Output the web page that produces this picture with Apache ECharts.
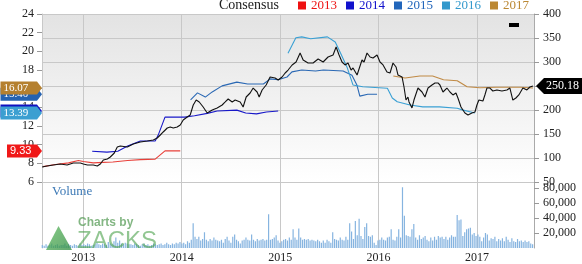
<!DOCTYPE html>
<html><head><meta charset="utf-8">
<script src="https://cdn.jsdelivr.net/npm/echarts@6/dist/echarts.min.js"></script>
<style>html,body{margin:0;padding:0;background:#fff}#c{width:582px;height:264px}</style>
</head><body><div id="c"></div>
<script>
// ---- data ----
const yearTicks = [2013, 2014, 2015, 2016, 2017];
const legendYears = ['2013', '2014', '2015', '2016', '2017'];
const xMin = 2012.58, xMax = 2017.58;

const price = [[2012.581,81.3],[2012.631,83.3],[2012.695,85.4],[2012.766,87.5],[2012.835,85.4],[2012.898,89.6],[2012.970,89.6],[2013.000,87.5],[2013.041,85.4],[2013.102,85.4],[2013.142,83.3],[2013.173,87.5],[2013.203,95.8],[2013.244,97.9],[2013.274,102.1],[2013.315,110.4],[2013.345,122.9],[2013.376,125.0],[2013.447,122.9],[2013.508,129.2],[2013.579,133.3],[2013.650,135.4],[2013.711,137.5],[2013.751,141.7],[2013.782,147.9],[2013.812,154.2],[2013.853,162.5],[2013.883,164.6],[2013.914,162.5],[2013.954,164.6],[2013.985,168.8],[2014.015,179.2],[2014.056,185.4],[2014.086,189.6],[2014.117,210.4],[2014.147,220.8],[2014.178,216.7],[2014.218,206.3],[2014.259,193.8],[2014.310,200.0],[2014.360,204.2],[2014.411,210.4],[2014.442,216.7],[2014.472,222.9],[2014.513,216.7],[2014.543,220.8],[2014.594,216.7],[2014.624,206.3],[2014.655,227.1],[2014.695,235.4],[2014.726,245.8],[2014.766,237.5],[2014.787,227.1],[2014.817,241.7],[2014.858,252.1],[2014.898,268.8],[2014.949,266.7],[2014.980,262.5],[2015.020,268.8],[2015.051,277.1],[2015.081,283.3],[2015.122,293.8],[2015.162,300.0],[2015.203,318.8],[2015.234,304.2],[2015.284,297.9],[2015.335,297.9],[2015.386,306.3],[2015.437,300.0],[2015.487,310.4],[2015.538,314.6],[2015.569,331.3],[2015.599,314.6],[2015.629,300.0],[2015.660,293.8],[2015.690,297.9],[2015.721,283.3],[2015.741,287.5],[2015.782,272.9],[2015.802,270.8],[2015.832,304.2],[2015.853,300.0],[2015.883,318.8],[2015.914,310.4],[2015.944,308.3],[2015.985,314.6],[2016.015,300.0],[2016.046,293.8],[2016.086,279.2],[2016.117,277.1],[2016.147,297.9],[2016.178,289.6],[2016.198,272.9],[2016.239,268.8],[2016.259,247.9],[2016.279,220.8],[2016.299,227.1],[2016.310,216.7],[2016.340,204.2],[2016.360,220.8],[2016.401,245.8],[2016.442,237.5],[2016.472,227.1],[2016.503,245.8],[2016.543,252.1],[2016.574,256.3],[2016.604,256.3],[2016.624,252.1],[2016.655,237.5],[2016.695,245.8],[2016.726,237.5],[2016.756,231.3],[2016.787,235.4],[2016.807,225.0],[2016.838,206.3],[2016.858,204.2],[2016.878,193.8],[2016.909,189.6],[2016.949,193.8],[2016.980,195.8],[2017.000,210.4],[2017.020,220.8],[2017.061,218.8],[2017.081,231.3],[2017.102,245.8],[2017.132,245.8],[2017.162,239.6],[2017.203,241.7],[2017.254,239.6],[2017.305,241.7],[2017.335,245.8],[2017.365,220.8],[2017.396,225.0],[2017.426,231.3],[2017.467,245.8],[2017.508,241.7],[2017.538,247.9],[2017.569,250.18]];

const eps2013 = [[2012.59,7.65],[2012.70,7.85],[2012.85,8.05],[2012.95,8.3],[2013.0,8.2],[2013.10,8.05],[2013.20,8.1],[2013.30,8.15],[2013.45,8.3],[2013.58,8.4],[2013.73,8.45],[2013.83,9.33],[2013.985,9.33]];
const eps2014 = [[2013.09,9.3],[2013.24,9.2],[2013.35,9.3],[2013.45,9.85],[2013.58,10.4],[2013.73,10.4],[2013.76,11.0],[2013.83,12.95],[2014.03,12.95],[2014.13,13.1],[2014.26,13.35],[2014.36,13.6],[2014.56,13.7],[2014.65,13.4],[2014.76,13.3],[2014.86,13.5],[2014.98,13.6]];
const eps2015 = [[2014.09,14.8],[2014.16,15.55],[2014.24,15.1],[2014.31,15.65],[2014.41,16.3],[2014.56,16.7],[2014.67,16.5],[2014.83,16.5],[2014.90,17.05],[2014.98,16.95],[2015.07,17.25],[2015.12,17.8],[2015.22,18.0],[2015.36,17.9],[2015.44,18.0],[2015.64,17.9],[2015.73,17.45],[2015.78,16.4],[2015.81,15.2],[2015.89,15.4],[2015.985,15.40]];
const eps2016 = [[2015.08,19.8],[2015.16,21.45],[2015.22,21.55],[2015.31,21.35],[2015.48,21.55],[2015.56,21.0],[2015.61,19.9],[2015.68,18.3],[2015.74,16.4],[2015.84,16.2],[2016.09,16.05],[2016.14,15.0],[2016.19,14.6],[2016.32,14.25],[2016.45,14.05],[2016.62,14.05],[2016.80,13.9],[2016.86,13.7],[2016.98,13.39]];
const eps2017 = [[2016.15,17.35],[2016.27,17.15],[2016.42,17.35],[2016.55,17.35],[2016.66,16.95],[2016.80,16.85],[2016.90,16.2],[2017.03,16.1],[2017.20,16.15],[2017.44,16.15],[2017.57,16.07]];

// weekly volume, thousands of shares; first week starts 2012-08-01
const volStart = 2012.583;
const volumes = [4,3,5,3,4,6,3,4,5,3,4,4,6,3,5,4,3,5,4,3,6,4,
5,4,6,5,3,4,5,7,5,4,6,5,4,8,6,5,9,14,7,10,6,5,7,6,5,
5,4,6,5,4,3,5,6,4,5,3,4,6,5,4,5,6,4,5,7,5,4,6,5,7,6,8,
6,7,5,9,7,11,33,15,12,15,10,12,21,11,9,12,10,14,11,10,9,11,7,12,15,10,7,15,18,11,9,6,10,11,14,11,10,18,11,9,12,10,11,12,10,11,45,11,12,14,17,10,7,
9,11,12,10,14,11,25,14,11,26,14,11,12,11,12,10,11,10,9,11,9,7,10,7,11,9,7,21,12,11,10,14,11,10,15,11,33,22,12,36,17,39,16,12,28,33,16,15,17,7,4,10,
11,14,11,10,14,15,25,11,10,15,25,14,81,43,17,16,15,25,32,14,11,17,12,14,16,11,9,14,10,15,11,16,14,15,12,15,11,14,17,15,15,44,37,38,16,21,25,26,27,18,20,16,
18,15,9,14,20,18,10,13,12,15,9,12,10,13,9,15,11,8,13,9,8,12,9,10,8,10,8,9,6,5];

// ---- styles ----
const serif = '"Liberation Serif","Times New Roman",serif';
const sans = '"Liberation Sans",Arial,sans-serif';
const gridColor = '#c8c8c8';
const epsColors = ['#e8403a', '#1818c8', '#2a68b4', '#3aa0d4', '#c08a45'];
const legendColors = ['#ee1111', '#1111cc', '#2266bb', '#3399cc', '#bb8833'];
const tagColors = ['#f01818', '#1010c0', '#2562b0', '#3b9fd1', '#b5802f'];
const epsData = [eps2013, eps2014, eps2015, eps2016, eps2017];

const volData = volumes.map((v, i) => [volStart + i * 7 / 365.25, v]);

const lbl = {fontFamily: serif, fontSize: 12, color: '#222'};

const option = {
  animation: false,
  backgroundColor: '#fff',
  grid: [
    {left: 42, right: 48, top: 14, height: 168, show: true, borderWidth: 0,
     backgroundColor: {type: 'linear', x: 0, y: 0, x2: 0, y2: 1,
       colorStops: [{offset: 0, color: '#e3e3e3'}, {offset: 1, color: '#ffffff'}]}},
    {left: 42, right: 48, top: 182, height: 72}
  ],
  xAxis: [
    {gridIndex: 0, type: 'value', min: xMin, max: xMax,
     axisLine: {show: false}, axisTick: {show: false, customValues: yearTicks},
     axisLabel: {show: false, customValues: yearTicks},
     splitLine: {show: true, lineStyle: {color: gridColor}}},
    {gridIndex: 1, type: 'value', min: xMin, max: xMax,
     axisLine: {show: false}, axisTick: {show: false, customValues: yearTicks},
     axisLabel: Object.assign({show: true, customValues: yearTicks, margin: 4, formatter: v => String(Math.round(v))}, lbl),
     splitLine: {show: true, lineStyle: {color: gridColor}}}
  ],
  yAxis: [
    {gridIndex: 0, position: 'left', min: 6, max: 24, interval: 2,
     axisLine: {show: true, lineStyle: {color: gridColor}},
     axisTick: {show: true, length: 5, lineStyle: {color: '#999'}},
     axisLabel: Object.assign({margin: 8}, lbl), splitLine: {show: false}},
    {gridIndex: 0, position: 'right', min: 50, max: 400, interval: 50,
     axisLine: {show: true, lineStyle: {color: '#aaa'}},
     axisTick: {show: true, length: 5, lineStyle: {color: '#999'}},
     axisLabel: Object.assign({margin: 9}, lbl),
     splitLine: {show: true, lineStyle: {color: gridColor}}},
    {gridIndex: 1, position: 'right', min: 0, max: 88, interval: 20,
     axisLine: {show: true, lineStyle: {color: '#aaa'}},
     axisTick: {show: true, length: 5, lineStyle: {color: '#999'}},
     axisLabel: Object.assign({margin: 9, showMinLabel: false, showMaxLabel: false,
       formatter: v => (v * 1000).toLocaleString('en-US')}, lbl),
     splitLine: {show: false}},
    {gridIndex: 1, position: 'left', min: 0, max: 1,
     axisLine: {show: true, lineStyle: {color: gridColor}},
     axisTick: {show: false}, axisLabel: {show: false}, splitLine: {show: false}}
  ],
  legend: {
    left: 298, top: -1, padding: 0, itemWidth: 8, itemHeight: 8, itemGap: 9, icon: 'rect',
    selectedMode: false,
    textStyle: {fontFamily: serif, fontSize: 13},
    data: legendYears.map((n, i) => ({name: n, itemStyle: {color: legendColors[i]},
      textStyle: {color: legendColors[i]}}))
  },
  series: [
    {name: 'Volume', type: 'bar', xAxisIndex: 1, yAxisIndex: 2, data: volData,
     barWidth: 1.2, itemStyle: {color: '#86b4e0'}, silent: true},
    ...epsData.map((d, i) => ({
      name: legendYears[i], type: 'line', xAxisIndex: 0, yAxisIndex: 0, data: d,
      showSymbol: false, symbol: 'none', lineStyle: {color: epsColors[i], width: 1.1},
      itemStyle: {color: epsColors[i]}, z: 3, silent: true})),
    {name: 'Price', type: 'line', xAxisIndex: 0, yAxisIndex: 1, data: price,
     showSymbol: false, symbol: 'none', lineStyle: {color: '#111', width: 1.1}, z: 5, silent: true}
  ]
};

const chart = echarts.init(document.getElementById('c'), null, {renderer: 'canvas'});
chart.setOption(option);

// ---- tags & decorations positioned through the axes ----
const g = [];
let z = 100;
epsData.forEach((d, i) => {
  const v = d[d.length - 1][1];
  const py = chart.convertToPixel({yAxisIndex: 0}, v);
  const txt = v.toFixed(2);
  const left = 37 - (txt.length * 6.5 + 4);
  g.push({type: 'polygon', z: z++, silent: true,
    shape: {points: [[left, py - 6.5], [37, py - 6.5], [42, py], [37, py + 6.5], [left, py + 6.5]]},
    style: {fill: tagColors[i]}});
  g.push({type: 'text', z: z++, silent: true, x: left + 3, y: py,
    style: {text: txt, fill: '#fff', font: '11px ' + (i === 0 ? sans : serif),
      align: 'left', verticalAlign: 'middle', textAlign: 'left', textVerticalAlign: 'middle'}});
});
const lastP = price[price.length - 1][1];
const pp = chart.convertToPixel({yAxisIndex: 1}, lastP);
g.push({type: 'polygon', z: z++, silent: true,
  shape: {points: [[536, pp], [544, pp - 8], [582, pp - 8], [582, pp + 8], [544, pp + 8]]},
  style: {fill: '#000'}});
g.push({type: 'text', z: z++, silent: true, x: 546, y: pp,
  style: {text: lastP.toFixed(2), fill: '#fff', font: '12px ' + serif,
    align: 'left', verticalAlign: 'middle', textAlign: 'left', textVerticalAlign: 'middle'}});
// title "Consensus"
g.push({type: 'text', z: z++, silent: true, x: 219, y: 5.5,
  style: {text: 'Consensus', fill: '#222', font: '14px ' + serif,
    align: 'left', verticalAlign: 'middle', textAlign: 'left', textVerticalAlign: 'middle'}});
// small black marker
g.push({type: 'rect', z: z++, silent: true, shape: {x: 509, y: 23, width: 10, height: 4}, style: {fill: '#000'}});
// Volume label
g.push({type: 'text', z: z++, silent: true, x: 52, y: 192,
  style: {text: 'Volume', fill: '#3b78b5', font: '13px ' + serif,
    align: 'left', verticalAlign: 'middle', textAlign: 'left', textVerticalAlign: 'middle'}});
// Zacks watermark
g.push({type: 'polygon', z: z++, silent: true,
  shape: {points: [[46, 250], [58.5, 226], [72, 250]]},
  style: {fill: {type: 'linear', x: 0, y: 0, x2: 1, y2: 1,
    colorStops: [{offset: 0, color: '#5cb85c'}, {offset: 1, color: '#2e8b3e'}]}, opacity: 0.75}});
g.push({type: 'text', z: z++, silent: true, x: 78, y: 223,
  style: {text: 'Charts by', fill: '#5a9e5a', font: 'bold 12px ' + sans, opacity: 0.75,
    align: 'left', verticalAlign: 'middle', textAlign: 'left', textVerticalAlign: 'middle'}});
g.push({type: 'text', z: z++, silent: true, x: 77, y: 241,
  style: {text: 'ZACKS', fill: '#4aa04a', font: '24px ' + sans, opacity: 0.6,
    align: 'left', verticalAlign: 'middle', textAlign: 'left', textVerticalAlign: 'middle'}});
chart.setOption({graphic: g});
</script>
</body></html>
